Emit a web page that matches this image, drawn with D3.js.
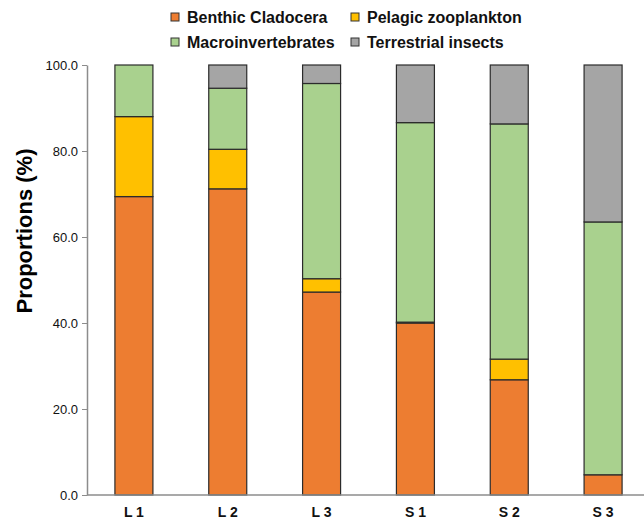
<!DOCTYPE html>
<html lang="en">
<head>
    <meta charset="UTF-8">
    <title>Proportions</title>
    <script src="https://d3js.org/d3.v7.min.js"></script>
    <style>
        body { margin: 0; background: #fff; }
        svg text { font-family: "Liberation Sans", Arial, sans-serif; }
        .y-axis path, .y-axis line, .x-axis path { stroke: #8c8c8c; }
        .y-axis text { font-size: 13px; fill: #111; }
        .x-axis text { font-size: 14px; font-weight: bold; fill: #111; }
        .legend text { font-size: 16px; font-weight: bold; fill: #111; }
    </style>
</head>
<body>
    <svg id="chart" width="644" height="523"></svg>
    <script>
        // Sites and proportions (%) of each food source
        const sites = ["L 1", "L 2", "L 3", "S 1", "S 2", "S 3"];
        const groups = ["Benthic Cladocera", "Pelagic zooplankton", "Macroinvertebrates", "Terrestrial insects"];
        const benthic = [69.4, 71.2, 47.2, 40.0, 26.8, 4.7];
        const pelagic = [18.6, 9.2, 3.1, 0.2, 4.8, 0.0];
        const macro = [12.0, 14.2, 45.4, 46.4, 54.7, 58.8];
        const terrestrial = [0.0, 5.4, 4.3, 13.4, 13.7, 36.5];
        const yTicks = [0, 20, 40, 60, 80, 100];

        const colors = ["#ED7D31", "#FFC000", "#A9D18E", "#A5A5A5"];

        const rows = sites.map((s, i) => ({
            site: s,
            "Benthic Cladocera": benthic[i],
            "Pelagic zooplankton": pelagic[i],
            "Macroinvertebrates": macro[i],
            "Terrestrial insects": terrestrial[i]
        }));

        const svg = d3.select("#chart");
        const margin = { left: 87, right: -6, top: 65, bottom: 28 };
        const width = 644, height = 523;

        const x = d3.scaleBand()
            .domain(sites)
            .range([margin.left, width - margin.right])
            .paddingInner(0.595)
            .paddingOuter(0.2975);

        const y = d3.scaleLinear()
            .domain([0, 100])
            .range([height - margin.bottom, margin.top]);

        const color = d3.scaleOrdinal().domain(groups).range(colors);

        const stack = d3.stack().keys(groups)(rows);

        // Stacked bars
        svg.append("g")
            .selectAll("g")
            .data(stack)
            .join("g")
            .attr("fill", d => color(d.key))
            .selectAll("rect")
            .data(d => d.filter(p => p[1] - p[0] > 0))
            .join("rect")
            .attr("x", d => x(d.data.site))
            .attr("y", d => y(d[1]))
            .attr("width", x.bandwidth())
            .attr("height", d => y(d[0]) - y(d[1]))
            .attr("stroke", "#2b2b2b")
            .attr("stroke-width", 1.2);

        // Y axis
        svg.append("g")
            .attr("class", "y-axis")
            .attr("transform", `translate(${margin.left},0)`)
            .call(d3.axisLeft(y).tickValues(yTicks).tickFormat(d3.format(".1f")).tickSize(5).tickSizeOuter(0).tickPadding(4))
            .call(g => g.select(".domain").attr("stroke-width", 1.5));

        // X axis
        svg.append("g")
            .attr("class", "x-axis")
            .attr("transform", `translate(0,${y(0)})`)
            .call(d3.axisBottom(x).tickSize(0).tickPadding(12))
            .call(g => g.select(".domain").attr("d", `M${margin.left},0H${width}`).attr("stroke-width", 1.5));

        // Y title
        svg.append("text")
            .attr("transform", `translate(32,231) rotate(-90)`)
            .attr("text-anchor", "middle")
            .style("font-size", "22px")
            .style("font-weight", "bold")
            .text("Proportions (%)");

        // Legend (2 x 2)
        const legendPos = [[171, 17], [351, 17], [171, 42], [351, 42]];
        const legend = svg.append("g").attr("class", "legend")
            .selectAll("g")
            .data(groups)
            .join("g")
            .attr("transform", (d, i) => `translate(${legendPos[i][0]},${legendPos[i][1]})`);

        legend.append("rect")
            .attr("x", 0).attr("y", -4)
            .attr("width", 8).attr("height", 8)
            .attr("fill", d => color(d))
            .attr("stroke", "#333");

        legend.append("text")
            .attr("x", 16)
            .attr("dy", "0.36em")
            .text(d => d);
    </script>
</body>
</html>
